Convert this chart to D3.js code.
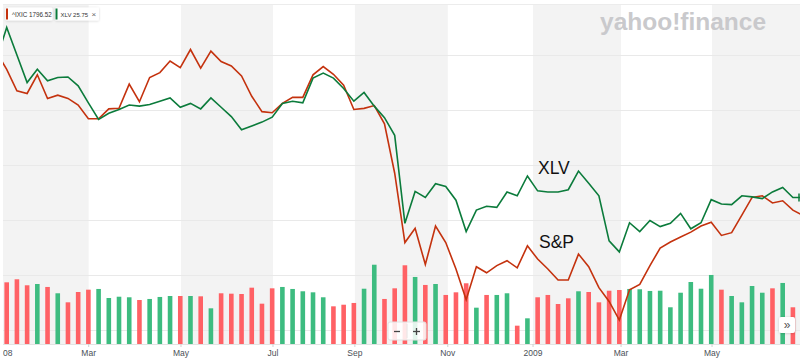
<!DOCTYPE html>
<html>
<head>
<meta charset="utf-8">
<script src="https://cdn.jsdelivr.net/npm/d3@7/dist/d3.min.js"></script>
<style>
  html, body { margin: 0; padding: 0; background: #ffffff; }
  svg { display: block; }
  text { font-family: "Liberation Sans", Arial, sans-serif; }
</style>
</head>
<body>
<svg id="chart" width="800" height="360"></svg>
<script>
// ---------- DATA ----------
// weekly sample index (week -1 and 78 fall just outside the visible window)
const weeks = d3.range(-1, 79);

// % change, S&P (red line)
const spValues = [10.5, 7.4, 3.5, 3.0, 6.4, 2.1, 2.7, 2.1, 0.9, -1.6, -1.6,
  0.2, 0.3, 4.7, 1.5, 5.9, 6.8, 8.9, 7.7, 11.0, 7.6,
  10.7, 8.8, 8.0, 6.2, 2.5, -0.3, -0.5, 1.2, 2.3, 2.3,
  6.4, 7.9, 6.5, 4.5, 0.1, 0.3, 0.8, -2.5, -11.5, -24.1,
  -21.5, -28.1, -21.1, -24.1, -28.9, -34.5, -28.5, -29.6, -28.3, -27.4,
  -28.7, -24.7, -27.1, -28.9, -30.9, -30.9, -26.2, -28.5, -32.3, -34.8,
  -38.2, -32.7, -31.7, -28.3, -25.1, -24.0, -23.1, -22.2, -21.1, -20.4,
  -22.8, -22.3, -19.1, -15.9, -15.6, -16.9, -16.5, -18.2, -19.2];

// % change, XLV (green line)
const xlvValues = [9.2, 15.0, 10.0, 5.0, 7.4, 5.3, 5.9, 6.0, 4.4, 1.3, -1.7,
  -0.6, 0.1, 0.9, 0.7, 1.0, 1.6, 2.2, 0.5, 1.2, 0.2,
  2.2, 0.5, -1.2, -3.6, -2.9, -2.2, -1.3, 1.2, 1.6, 1.3,
  5.8, 6.7, 5.8, 3.9, 1.6, 3.2, 0.7, -1.4, -4.6, -20.6,
  -14.8, -15.9, -13.4, -13.9, -16.4, -22.1, -18.2, -17.5, -17.7, -14.9,
  -15.6, -12.0, -14.7, -14.9, -14.9, -14.5, -11.1, -13.3, -15.6, -23.8,
  -25.8, -20.5, -22.1, -20.1, -21.2, -20.6, -18.8, -21.6, -20.5, -16.3,
  -17.1, -17.2, -15.6, -15.8, -16.1, -14.9, -14.1, -15.9, -15.9];

// weekly volume (billions of shares)
const volumes = [7.0, 7.71, 8.09, 7.34, 7.5, 7.13, 6.34, 5.21, 6.5, 6.79, 6.88,
  5.75, 5.91, 5.84, 5.5, 5.63, 5.88, 6.0, 6.0, 6.0, 5.96,
  4.46, 6.34, 6.29, 6.25, 7.04, 5.04, 6.96, 7.13, 6.88, 6.59,
  6.46, 5.84, 4.71, 4.91, 5.13, 6.91, 9.91, 5.63, 6.96, 9.84,
  8.38, 7.38, 7.5, 6.13, 6.46, 7.59, 4.54, 6.13, 6.13, 6.34,
  2.29, 3.21, 5.84, 6.13, 5.0, 5.71, 6.59, 6.5, 5.21, 6.66,
  6.75, 6.88, 6.84, 6.63, 6.66, 4.59, 6.41, 7.75, 6.91, 8.63,
  6.79, 6.0, 5.21, 7.25, 6.41, 6.96, 7.63, 4.59, 6.0];

// volume direction: "d" = down week (red), "u" = up week (green)
const volDir = ["d", "d", "d", "d", "u", "d", "u", "d", "d", "d", "u",
  "u", "u", "u", "d", "u", "u", "u", "d", "u", "d",
  "u", "d", "d", "d", "d", "d", "d", "u", "u", "u",
  "u", "u", "d", "d", "d", "u", "u", "d", "d", "d",
  "u", "d", "u", "d", "d", "d", "u", "d", "u", "u",
  "d", "u", "d", "d", "d", "d", "u", "d", "d", "d",
  "d", "u", "u", "u", "u", "u", "u", "u", "u", "u",
  "d", "u", "u", "u", "u", "d", "u", "d", "u"];

// x-axis tick labels and where they fall (in week units)
const tickLabels = ["2008", "Mar", "May", "Jul", "Sep", "Nov", "2009", "Mar", "May"];
const tickWeeks = [-0.37, 8.03, 17.07, 26.08, 34.1, 43.2, 51.55, 60.17, 69.08];

// horizontal grid values (% change)
const gridValues = [10, 0, -10, -20, -30, -40];

// legend
const legendItems = [
  { name: "^IXIC", value: "1796.52", series: "sp" },
  { name: "XLV", value: "25.75", series: "xlv" }
];

// ---------- LAYOUT ----------
const W = 800, H = 360;
const plot = { left: 3, top: 4, right: 800, bottom: 344 };
const colors = {
  sp: "#c4320e",
  xlv: "#0b7b3b",
  up: "#3dbc80",
  down: "#ff6165",
  band: "#f3f3f3",
  grid: "#e9e9e9"
};

const svg = d3.select("#chart");

const x = d3.scaleLinear().domain([0, 77]).range([6.7, 792.9]);
const y = d3.scaleLinear().domain([-40, 20]).range([330, 0]);
const yVol = d3.scaleLinear().domain([0, 10]).range([plot.bottom, 264]);

const defs = svg.append("defs");
defs.append("clipPath").attr("id", "plotClip")
  .append("rect")
  .attr("x", plot.left).attr("y", plot.top)
  .attr("width", plot.right - plot.left).attr("height", plot.bottom - plot.top);

defs.append("filter").attr("id", "shadow")
  .attr("x", "-20%").attr("y", "-40%").attr("width", "140%").attr("height", "180%")
  .append("feDropShadow")
  .attr("dx", 0).attr("dy", 0.5).attr("stdDeviation", 0.8)
  .attr("flood-color", "#000").attr("flood-opacity", 0.18);

defs.append("clipPath").attr("id", "labelClip")
  .append("rect").attr("x", plot.left).attr("y", plot.bottom)
  .attr("width", W - plot.left).attr("height", H - plot.bottom);

// ---------- BANDS ----------
const bandEdges = [x.invert(plot.left)].concat(tickWeeks.slice(1)).concat([x.invert(plot.right)]);
const bands = [];
for (let i = 0; i < bandEdges.length - 1; i += 2) {
  bands.push([bandEdges[i], bandEdges[i + 1]]);
}
const gBack = svg.append("g").attr("clip-path", "url(#plotClip)");
gBack.selectAll("rect.band").data(bands).join("rect")
  .attr("class", "band")
  .attr("x", d => x(d[0]))
  .attr("y", plot.top)
  .attr("width", d => x(d[1]) - x(d[0]))
  .attr("height", plot.bottom - plot.top)
  .attr("fill", colors.band);

// top border
svg.append("line")
  .attr("x1", plot.left).attr("x2", plot.right)
  .attr("y1", plot.top + 0.5).attr("y2", plot.top + 0.5)
  .attr("stroke", "#ececec").attr("stroke-width", 1);

// gridlines
gBack.selectAll("line.grid").data(gridValues).join("line")
  .attr("class", "grid")
  .attr("x1", plot.left).attr("x2", plot.right)
  .attr("y1", d => Math.round(y(d)) + 0.5).attr("y2", d => Math.round(y(d)) + 0.5)
  .attr("stroke", colors.grid).attr("stroke-width", 1);

// watermark
svg.append("text")
  .attr("x", 600).attr("y", 29.5)
  .attr("font-size", 24.5).attr("font-weight", "bold")
  .attr("fill", "#c9c9cc")
  .attr("letter-spacing", 0)
  .text("yahoo!finance");

// ---------- VOLUME ----------
const gVol = svg.append("g").attr("clip-path", "url(#plotClip)");
gVol.selectAll("rect.vol").data(weeks).join("rect")
  .attr("class", "vol")
  .attr("x", (w) => x(w) - 2.3)
  .attr("width", 4.6)
  .attr("y", (w, i) => yVol(volumes[i]))
  .attr("height", (w, i) => plot.bottom - yVol(volumes[i]))
  .attr("fill", (w, i) => volDir[i] === "u" ? colors.up : colors.down);

// axis line + ticks
svg.append("line")
  .attr("x1", plot.left).attr("x2", plot.right)
  .attr("y1", plot.bottom + 0.5).attr("y2", plot.bottom + 0.5)
  .attr("stroke", "#e3e3e3");

const axisG = svg.append("g");
axisG.selectAll("line.tick").data(tickWeeks.slice(1)).join("line")
  .attr("class", "tick")
  .attr("x1", d => x(d)).attr("x2", d => x(d))
  .attr("y1", plot.bottom).attr("y2", plot.bottom + 3)
  .attr("stroke", "#d0d0d0");

axisG.append("g").attr("clip-path", "url(#labelClip)")
  .selectAll("text").data(tickLabels).join("text")
  .attr("x", (d, i) => x(tickWeeks[i]))
  .attr("y", 355.5)
  .attr("text-anchor", "middle")
  .attr("font-size", 8.5)
  .attr("fill", "#4a5057")
  .text(d => d);

// ---------- LINES ----------
const gLines = svg.append("g").attr("clip-path", "url(#plotClip)");
const lineSp = d3.line().x((w) => x(w)).y((w, i) => y(spValues[i]));
const lineXlv = d3.line().x((w) => x(w)).y((w, i) => y(xlvValues[i]));

gLines.append("path").datum(weeks)
  .attr("d", lineSp)
  .attr("fill", "none").attr("stroke", colors.sp)
  .attr("stroke-width", 1.6).attr("stroke-linejoin", "miter");
gLines.append("path").datum(weeks)
  .attr("d", lineXlv)
  .attr("fill", "none").attr("stroke", colors.xlv)
  .attr("stroke-width", 1.6).attr("stroke-linejoin", "miter");

// end marker for XLV
svg.append("line")
  .attr("x1", 799).attr("x2", 799)
  .attr("y1", y(xlvValues[xlvValues.length - 1]) - 4)
  .attr("y2", y(xlvValues[xlvValues.length - 1]) + 4)
  .attr("stroke", colors.xlv).attr("stroke-width", 1.5);

// ---------- ANNOTATIONS ----------
svg.append("text").attr("x", 538).attr("y", 174)
  .attr("font-size", 17.5).attr("fill", "#111").text("XLV");
svg.append("text").attr("x", 539).attr("y", 248.3)
  .attr("font-size", 17.5).attr("fill", "#111").text("S&P");

// ---------- LEGEND ----------
const legendX = [5.5, 55];
const legendW = [47, 44];
const lg = svg.append("g");
legendItems.forEach((it, i) => {
  const g = lg.append("g").attr("transform", `translate(${legendX[i]},7.5)`);
  g.append("rect").attr("width", legendW[i]).attr("height", 13).attr("rx", 1.5)
    .attr("fill", "#fff").attr("filter", "url(#shadow)");
  g.append("rect").attr("x", 0.5).attr("y", 1).attr("width", 2).attr("height", 11)
    .attr("fill", colors[it.series]);
  g.append("text").attr("x", i === 0 ? 6.5 : 5.5).attr("y", 9.2)
    .attr("font-size", i === 0 ? 6.3 : 6.0).attr("fill", "#333")
    .text(it.name + " " + it.value);
  if (i === 1) {
    g.append("text").attr("x", 36.5).attr("y", 9.8)
      .attr("font-size", 8).attr("fill", "#666").text("×");
  }
});

// ---------- CONTROLS ----------
const zc = svg.append("g").attr("transform", "translate(388,322)");
zc.append("rect").attr("width", 38).attr("height", 18).attr("rx", 2)
  .attr("fill", "rgba(255,255,255,0.85)").attr("stroke", "#e2e2e2");
zc.append("line").attr("x1", 19).attr("x2", 19).attr("y1", 2).attr("y2", 16).attr("stroke", "#e6e6e6");
zc.append("line").attr("x1", 6).attr("x2", 12).attr("y1", 9.5).attr("y2", 9.5)
  .attr("stroke", "#444").attr("stroke-width", 1.3);
zc.append("line").attr("x1", 25).attr("x2", 32).attr("y1", 9.5).attr("y2", 9.5)
  .attr("stroke", "#444").attr("stroke-width", 1.3);
zc.append("line").attr("x1", 28.5).attr("x2", 28.5).attr("y1", 6).attr("y2", 13)
  .attr("stroke", "#444").attr("stroke-width", 1.3);

const nb = svg.append("g").attr("transform", "translate(779,317)");
nb.append("rect").attr("width", 16).attr("height", 16).attr("rx", 2)
  .attr("fill", "#fff").attr("filter", "url(#shadow)");
nb.append("text").attr("x", 8).attr("y", 12).attr("text-anchor", "middle")
  .attr("font-size", 12).attr("fill", "#555").text("»");
</script>
</body>
</html>
